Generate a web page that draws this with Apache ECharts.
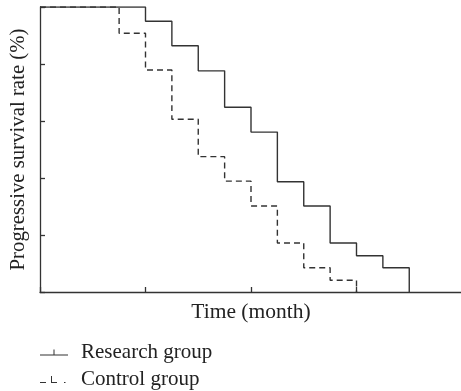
<!DOCTYPE html>
<html>
<head>
<meta charset="utf-8">
<script src="https://cdn.jsdelivr.net/npm/echarts@6/dist/echarts.min.js"></script>
<style>html,body{margin:0;padding:0;background:#fff;}#c{width:461px;height:391px;}</style>
</head>
<body>
<div id="c"></div>
<script>
// Step change times (months) and survival rates (%)
var researchTimes = [0, 4, 5, 6, 7, 8, 9, 10, 11, 12, 13, 14];
var researchRates = [100, 95, 86.4, 77.6, 64.8, 56.1, 38.7, 30.2, 17.2, 12.7, 8.5, 0];
var controlTimes = [0, 3, 4, 5, 6, 7, 8, 9, 10, 11, 12];
var controlRates = [100, 90.8, 77.9, 60.6, 47.5, 38.9, 30.2, 17.2, 8.5, 4.1, 0];
var seriesNames = ['Research group', 'Control group'];
var xTitle = 'Time (month)';
var yTitle = 'Progressive survival rate (%)';

function pairs(xs, ys) { return xs.map(function (x, i) { return [x, ys[i]]; }); }

var font = 'Liberation Serif';
var ink = '#333';
var chart = echarts.init(document.getElementById('c'), null, {renderer: 'canvas'});
chart.setOption({
  animation: false,
  backgroundColor: '#fff',
  grid: {left: 40, top: 7, width: 422, bottom: 99, containLabel: false, outerBoundsMode: 'none'},
  xAxis: {
    type: 'value', min: 0, max: 16, interval: 4,
    name: xTitle, nameLocation: 'middle', nameGap: 9,
    nameTextStyle: {fontFamily: font, fontSize: 21.5, color: '#222'},
    axisLine: {lineStyle: {color: ink, width: 1.3}},
    axisTick: {inside: true, length: 5, lineStyle: {color: ink, width: 1.3}},
    axisLabel: {show: false},
    splitLine: {show: false}
  },
  yAxis: {
    type: 'value', min: 0, max: 100, interval: 20,
    name: yTitle, nameLocation: 'middle', nameGap: 11,
    nameTextStyle: {fontFamily: font, fontSize: 20.8, color: '#222'},
    axisLine: {lineStyle: {color: ink, width: 1.3}},
    axisTick: {inside: true, length: 5, lineStyle: {color: ink, width: 1.3}},
    axisLabel: {show: false},
    splitLine: {show: false}
  },
  legend: {
    orient: 'vertical', left: 35, top: 337, height: 60, itemGap: 6, padding: 5,
    itemWidth: 28, itemHeight: 7,
    textStyle: {fontFamily: font, fontSize: 21, color: '#222', padding: [0, 0, 0, 8]},
    data: [
      {name: seriesNames[0], icon: 'path://M0,6 H28 V7 H0 Z M13.5,1 H14.5 V6 H13.5 Z'},
      {name: seriesNames[1], icon: 'path://M0,6 H6 V7 H0 Z M11,0 H12 V6 H17 V7 H11 Z M24,6 H25.5 V7 H24 Z M27.9,0 H28 V0.1 H27.9 Z'}
    ]
  },
  series: [
    {
      name: seriesNames[0], type: 'line', step: 'end', symbol: 'none',
      data: pairs(researchTimes, researchRates),
      color: ink,
      lineStyle: {color: ink, width: 1.4, type: 'solid'}
    },
    {
      name: seriesNames[1], type: 'line', step: 'end', symbol: 'none',
      data: pairs(controlTimes, controlRates),
      color: ink,
      lineStyle: {color: ink, width: 1.4, type: [6, 4]}
    }
  ]
});
</script>
</body>
</html>
